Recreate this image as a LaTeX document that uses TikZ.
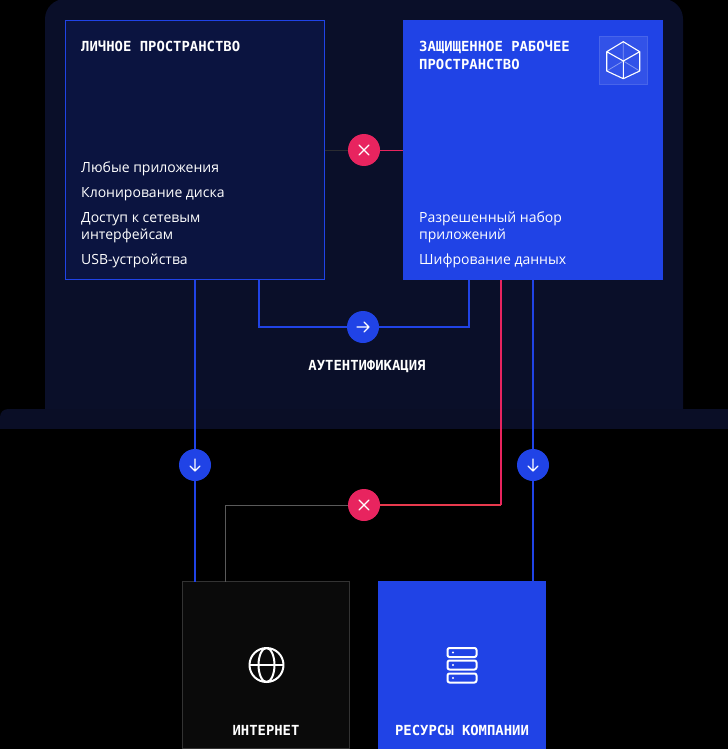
\documentclass[tikz,border=0pt]{standalone}
\usepackage{fontspec}
\setmainfont{Open Sans}
\setmonofont{DejaVu Sans Mono}
\usetikzlibrary{calc, positioning}
\definecolor{lid}{HTML}{0A0F29}
\definecolor{base}{HTML}{0A0E26}
\definecolor{panel}{HTML}{0B1440}
\definecolor{brand}{HTML}{2043E6}
\definecolor{stop}{HTML}{E8245F}
\definecolor{stopred}{HTML}{E83A4E}
\definecolor{cell}{HTML}{0A0A0A}
\definecolor{cellline}{HTML}{333333}
\definecolor{mute}{HTML}{5A5A5A}
\tikzset{
	box/.style={inner sep=0pt, outer sep=0pt, minimum width=#1, minimum height=#1},
	head/.style={inner sep=0pt, anchor=west, align=left, text=white, font=\ttfamily\bfseries\fontsize{13.9}{18}\selectfont},
	item/.style={inner sep=0pt, anchor=west, align=left, text=white, font=\fontsize{14}{17}\selectfont},
	caption/.style={inner sep=0pt, text=white, font=\ttfamily\bfseries\fontsize{13.9}{18}\selectfont},
	blueknob/.style={circle, fill=brand, inner sep=0pt, outer sep=0pt, minimum size=32pt},
	stopknob/.style={circle, fill=stop, inner sep=0pt, outer sep=0pt, minimum size=32pt},
	bluelink/.style={brand, line width=2pt},
	stoplink/.style={stop, line width=2pt},
	redlink/.style={stopred, line width=2pt},
	mutelink/.style={mute, line width=1.2pt},
	glyph/.style={draw=white, line width=1.1pt, line cap=round, line join=round},
	icon/.style={draw=white, line width=2pt, line join=round}
}
\newcommand{\crossmark}[1]{\draw[glyph] ($(#1)+(-5,-5)$) -- ($(#1)+(5,5)$) ($(#1)+(-5,5)$) -- ($(#1)+(5,-5)$);}
\newcommand{\downmark}[1]{\draw[glyph] ($(#1)+(0,-6)$) -- ($(#1)+(0,6)$) ($(#1)+(-5,1)$) -- ($(#1)+(0,6)$) -- ($(#1)+(5,1)$);}
\begin{document}
\begin{tikzpicture}[x=1pt, y=-1pt]
	\useasboundingbox (0,0) rectangle (727.7,749);
	\fill[black] (-3,-3) rectangle (731,752);
	\fill[lid, rounded corners=20pt] (45,-1) rectangle (683,440);
	\fill[base, rounded corners=8pt] (0,409) rectangle (736,445);
	\fill[black] (-3,429) rectangle (731,450);

	\node (personal) [box=259pt, fill=panel, draw=brand, line width=1pt] at (195,150) {};
	\node (secure) [box=260pt, fill=brand] at (533,150) {};
	\node (internet) [box=167pt, fill=cell, draw=cellline, line width=1pt] at (266,665) {};
	\node (company) [box=168pt, fill=brand] at (462,665) {};

	\node (ph) [head] at (81,46) {ЛИЧНОЕ ПРОСТРАНСТВО};
	\node (p1) [item] at (81,169) {Любые приложения};
	\node (p2) [item] at (81,194) {Клонирование диска};
	\node (p3) [item] at (81,228) {Доступ к сетевым\\интерфейсам};
	\node (p4) [item] at (81,261) {USB-устройства};

	\node (sh) [head] at (419,55.5) {ЗАЩИЩЕННОЕ РАБОЧЕЕ\\ПРОСТРАНСТВО};
	\node (s1) [item] at (419,227) {Разрешенный набор\\приложений};
	\node (s2) [item] at (419,261) {Шифрование данных};

	\coordinate (authl) at (259,327);
	\coordinate (authr) at (469,327);
	\coordinate (bendr) at (501,505);
	\coordinate (bendl) at (225.5,505.5);
	\coordinate (block1) at (364,150);
	\coordinate (auth) at (363,327);
	\coordinate (downl) at (195,465);
	\coordinate (downr) at (533,465);
	\coordinate (block2) at (364,505);

	\draw[cellline!80!lid, line width=1pt] (personal.east) -- (block1);
	\draw[stoplink, line width=1pt] (block1) -- (secure.west);
	\draw[bluelink] (personal.south -| downl) -- (internet.north -| downl);
	\draw[bluelink] (secure.south -| downr) -- (company.north -| downr);
	\draw[bluelink] (personal.south -| authl) -- (authl) -- (authr) -- (secure.south -| authr);
	\draw[stoplink] (secure.south -| bendr) -- (bendr);
	\draw[redlink] (bendr) -- (block2 |- bendr);
	\draw[mutelink] (block2 |- bendl) -- (bendl) -- (internet.north -| bendl);

	\node (blockone) [stopknob] at (block1) {};
	\node (authknob) [blueknob] at (auth) {};
	\node (downleft) [blueknob] at (downl) {};
	\node (downright) [blueknob] at (downr) {};
	\node (blocktwo) [stopknob] at (block2) {};
	\node (authlabel) [caption] at (367,367) {АУТЕНТИФИКАЦИЯ};
	\node (netlabel) [caption] at (266,730) {ИНТЕРНЕТ};
	\node (comlabel) [caption] at (462,730) {РЕСУРСЫ КОМПАНИИ};
	\crossmark{block1}
	\crossmark{block2}
	\downmark{downleft}
	\downmark{downright}
	\draw[glyph] ($(auth)+(-6,0)$) -- ($(auth)+(6,0)$) ($(auth)+(1,-5)$) -- ($(auth)+(6,0)$) -- ($(auth)+(1,5)$);

	% cube
	\node (cube) [box=48pt, fill=white!8!brand, draw=white!18!brand, line width=0.5pt] at (623,60) {};
	\draw[draw=white!45!brand, line width=0.8pt] (623.3,41.7) -- (623.3,61) (606.7,71) -- (623.3,61) -- (639.7,71);
	\draw[draw=white, line width=1.1pt, line join=round] (623.3,41.7) -- (639.7,51.7) -- (639.7,71) -- (623.3,78.7) -- (606.7,71) -- (606.7,51.7) -- cycle
		(606.7,51.7) -- (623.3,61) -- (639.7,51.7) (623.3,61) -- (623.3,78.7);

	% globe
	\draw[icon] (266.5,665) circle (17);
	\draw[icon] (266.5,665) ellipse (8 and 17);
	\draw[icon] (249.5,665) -- (283.5,665);

	% server
	\foreach \y in {652.5,665,678} {
		\draw[icon, rounded corners=2pt] (447.5,\y-4.5) rectangle (476.5,\y+4.5);
		\fill[white] (453,\y) circle (1.2);
	}
\end{tikzpicture}
\end{document}
